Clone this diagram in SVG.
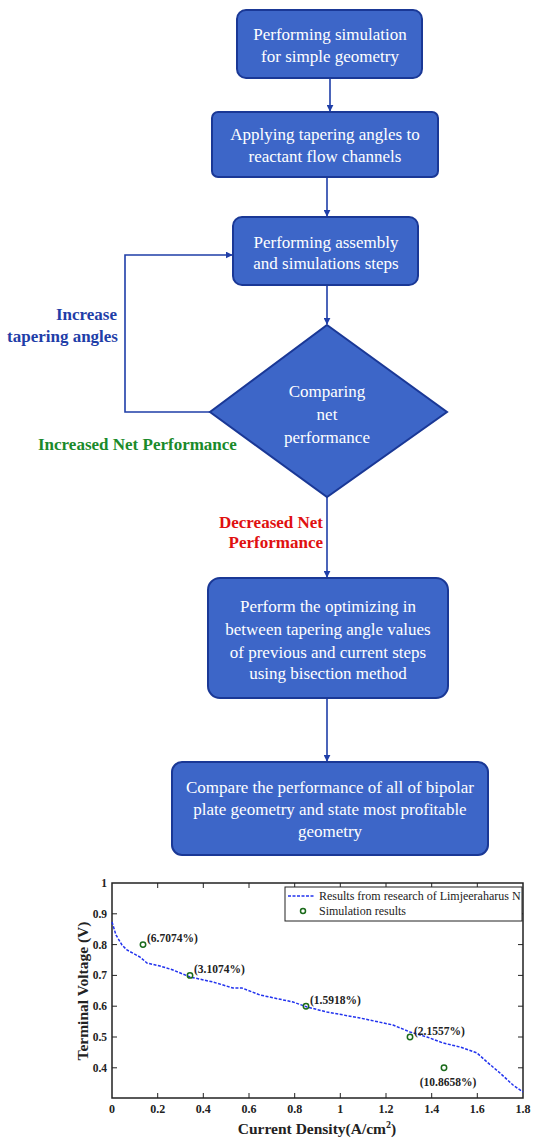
<svg xmlns="http://www.w3.org/2000/svg" width="533" height="1139" viewBox="0 0 533 1139">
<defs>
<style>
.box{fill:#3d66c8;stroke:#1a3896;stroke-width:2}
.bt{font-family:"Liberation Serif",serif;font-size:17px;fill:#ffffff;text-anchor:middle}
.conn{stroke:#1f3ea8;stroke-width:1.6;fill:none}
.lbl{font-family:"Liberation Serif",serif;font-size:17px;font-weight:bold}
.tick{font-family:"Liberation Serif",serif;font-weight:bold;fill:#222}
.ax{stroke:#222;stroke-width:1.5;fill:none}
.tk{stroke:#222;stroke-width:1}
.pt{fill:none;stroke:#1a6a1a;stroke-width:1.5}
.pl{font-family:"Liberation Serif",serif;font-size:11.5px;font-weight:bold;fill:#222}
.lg{font-family:"Liberation Serif",serif;font-size:12px;fill:#222}
</style>
<marker id="ah" viewBox="0 0 10 10" refX="9" refY="5" markerWidth="7" markerHeight="7" orient="auto" markerUnits="userSpaceOnUse">
<path d="M0,0 L10,5 L0,10 z" fill="#1f3ea8"/>
</marker>
</defs>
<rect width="533" height="1139" fill="#ffffff"/>

<g id="connectors">
<line class="conn" x1="330" y1="78" x2="330" y2="111" marker-end="url(#ah)"/>
<line class="conn" x1="327" y1="177" x2="327" y2="216" marker-end="url(#ah)"/>
<line class="conn" x1="327" y1="285" x2="327" y2="324" marker-end="url(#ah)"/>
<polyline class="conn" points="210,412 125,412 125,255 232,255" marker-end="url(#ah)"/>
<line class="conn" x1="327" y1="497" x2="327" y2="577" marker-end="url(#ah)"/>
<line class="conn" x1="327" y1="698" x2="327" y2="761" marker-end="url(#ah)"/>
</g>

<g id="n1">
<rect class="box" x="237" y="10" width="185" height="68" rx="9"/>
<text class="bt" x="330" y="40">Performing simulation</text>
<text class="bt" x="330" y="62">for simple geometry</text>
</g>
<g id="n2">
<rect class="box" x="212" y="112" width="226" height="65" rx="6"/>
<text class="bt" x="325" y="140">Applying tapering angles to</text>
<text class="bt" x="325" y="162">reactant flow channels</text>
</g>
<g id="n3">
<rect class="box" x="233" y="217" width="185" height="68" rx="9"/>
<text class="bt" x="326" y="248">Performing assembly</text>
<text class="bt" x="326" y="269">and simulations steps</text>
</g>
<g id="n4">
<polygon class="box" points="327,325 447,412 327,497 210,412"/>
<text class="bt" x="327" y="397">Comparing</text>
<text class="bt" x="327" y="420">net</text>
<text class="bt" x="327" y="443">performance</text>
</g>
<g id="n5">
<rect class="box" x="208" y="578" width="240" height="120" rx="12"/>
<text class="bt" x="328" y="612">Perform the optimizing in</text>
<text class="bt" x="328" y="635">between tapering angle values</text>
<text class="bt" x="328" y="658">of previous and current steps</text>
<text class="bt" x="328" y="679">using bisection method</text>
</g>
<g id="n6">
<rect class="box" x="172" y="762" width="316" height="93" rx="10"/>
<text class="bt" x="330" y="793">Compare the performance of all of bipolar</text>
<text class="bt" x="330" y="815">plate geometry and state most profitable</text>
<text class="bt" x="330" y="837">geometry</text>
</g>

<g id="labels">
<text class="lbl" x="117" y="320" text-anchor="end" fill="#1f3ea8">Increase</text>
<text class="lbl" x="118" y="342" text-anchor="end" fill="#1f3ea8">tapering angles</text>
<text class="lbl" x="38" y="450" fill="#1a8a2a">Increased Net Performance</text>
<text class="lbl" x="323" y="528" text-anchor="end" fill="#e01010">Decreased Net</text>
<text class="lbl" x="323" y="548" text-anchor="end" fill="#e01010">Performance</text>
</g>

<g id="chart">
<rect class="ax" x="112" y="883" width="411" height="215"/>
<g class="tk">
<path d="M157.7,1098v-5M203.3,1098v-5M249,1098v-5M294.7,1098v-5M340.3,1098v-5M386,1098v-5M431.7,1098v-5M477.3,1098v-5"/>
<path d="M157.7,883v5M203.3,883v5M249,883v5M294.7,883v5M340.3,883v5M386,883v5M431.7,883v5M477.3,883v5"/>
<path d="M112,913.8h5M112,944.6h5M112,975.4h5M112,1006.2h5M112,1037h5M112,1067.8h5"/>
<path d="M523,913.8h-5M523,944.6h-5M523,975.4h-5M523,1006.2h-5M523,1037h-5M523,1067.8h-5"/>
</g>
<g class="tick" text-anchor="end" font-size="11.5">
<text x="107" y="887">1</text>
<text x="107" y="918">0.9</text>
<text x="107" y="949">0.8</text>
<text x="107" y="979">0.7</text>
<text x="107" y="1010">0.6</text>
<text x="107" y="1041">0.5</text>
<text x="107" y="1072">0.4</text>
</g>
<g class="tick" text-anchor="middle" font-size="12">
<text x="112" y="1113">0</text>
<text x="157.7" y="1113">0.2</text>
<text x="203.3" y="1113">0.4</text>
<text x="249" y="1113">0.6</text>
<text x="294.7" y="1113">0.8</text>
<text x="340.3" y="1113">1</text>
<text x="386" y="1113">1.2</text>
<text x="431.7" y="1113">1.4</text>
<text x="477.3" y="1113">1.6</text>
<text x="523" y="1113">1.8</text>
</g>
<text x="317" y="1134" text-anchor="middle" font-family="Liberation Serif, serif" font-size="15.5" font-weight="bold" fill="#222">Current Density(A/cm<tspan dy="-6" font-size="10">2</tspan><tspan dy="6">)</tspan></text>
<text transform="translate(88,991) rotate(-90)" text-anchor="middle" font-family="Liberation Serif, serif" font-size="15.5" font-weight="bold" fill="#222">Terminal Voltage (V)</text>

<polyline fill="none" stroke="#2233ee" stroke-width="1.5" stroke-dasharray="3,1.5" points="112,922 116,935 122,945 127,950 140,957 147,963 160,966 173,970 190,977 213,982 233,988 242,988 260,995 293,1002 307,1007 327,1012 360,1018 393,1025 410,1032 427,1037 443,1043 460,1047 477,1053 487,1062 500,1073 513,1085 523,1092"/>

<circle class="pt" cx="143" cy="944.6" r="2.7"/>
<circle class="pt" cx="190" cy="975.4" r="2.7"/>
<circle class="pt" cx="306" cy="1006.2" r="2.7"/>
<circle class="pt" cx="410" cy="1037" r="2.7"/>
<circle class="pt" cx="444" cy="1067.8" r="2.7"/>
<text class="pl" x="147" y="942">(6.7074%)</text>
<text class="pl" x="194" y="973">(3.1074%)</text>
<text class="pl" x="310" y="1004">(1.5918%)</text>
<text class="pl" x="414" y="1035">(2.1557%)</text>
<text class="pl" x="448" y="1086" text-anchor="middle">(10.8658%)</text>

<rect x="285" y="887" width="237" height="34" fill="#ffffff" stroke="#222" stroke-width="1"/>
<line x1="288" y1="896" x2="315" y2="896" stroke="#2233ee" stroke-width="1.5" stroke-dasharray="3,1.5"/>
<text class="lg" x="319" y="900">Results from research of Limjeeraharus N</text>
<circle class="pt" cx="303" cy="911" r="2.5"/>
<text class="lg" x="319" y="915">Simulation results</text>
</g>
</svg>
